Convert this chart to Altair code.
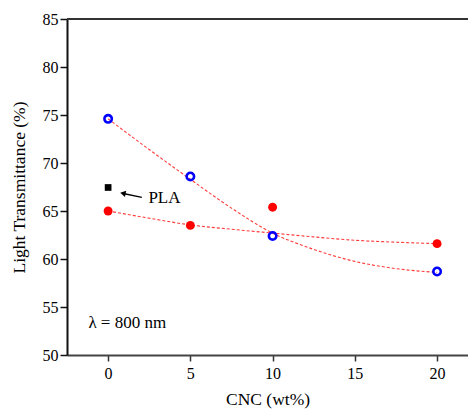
import altair as alt
import pandas as pd

# ---- data ----
cnc = [0, 5, 10, 20]
open_blue = [74.6, 68.6, 62.4, 58.7]
filled_red = [65.0, 63.5, 65.4, 61.6]
pla_x = [0]
pla_y = [67.45]

# dashed fit curves
curve_x = [0, 2.5, 5, 7.5, 10, 12.5, 15, 17.5, 20]
curve_blue = [74.6, 71.4, 68.3, 65.3, 62.7, 61.0, 59.75, 59.0, 58.6]
curve_red = [65.0, 64.25, 63.55, 63.1, 62.7, 62.3, 61.95, 61.75, 61.6]

x_ticks = [0, 5, 10, 15, 20]
y_ticks = [50, 55, 60, 65, 70, 75, 80, 85]

X_DOMAIN = [-2.5, 21.88]
Y_DOMAIN = [50, 85]
W, H = 401, 336
SERIF = "Liberation Serif"

blue_df = pd.DataFrame({"x": cnc, "y": open_blue})
red_df = pd.DataFrame({"x": cnc, "y": filled_red})
pla_df = pd.DataFrame({"x": pla_x, "y": pla_y})
cb_df = pd.DataFrame({"x": curve_x, "y": curve_blue})
cr_df = pd.DataFrame({"x": curve_x, "y": curve_red})

xs = alt.Scale(domain=X_DOMAIN, nice=False, zero=False)
ys = alt.Scale(domain=Y_DOMAIN, nice=False, zero=False)

x_axis = alt.Axis(values=x_ticks, title="CNC (wt%)", grid=False, tickSize=6,
                  labelPadding=4, titlePadding=9, domainWidth=2, domainColor="#444",
                  tickColor="#333", tickWidth=1.5)
y_axis = alt.Axis(values=y_ticks, title="Light Transmittance (%)", grid=False, tickSize=7,
                  labelPadding=2, titlePadding=14, domainWidth=2, domainColor="#111",
                  tickColor="#111", tickWidth=1.5)

base_x = alt.X("x:Q", scale=xs, axis=x_axis)
base_y = alt.Y("y:Q", scale=ys, axis=y_axis)

fit_blue = alt.Chart(cb_df).mark_line(
    color="#ff3b3b", strokeDash=[3, 2], strokeWidth=1.1, interpolate="monotone"
).encode(x=base_x, y=base_y)

fit_red = alt.Chart(cr_df).mark_line(
    color="#ff3b3b", strokeDash=[3, 2], strokeWidth=1.1, interpolate="monotone"
).encode(x=base_x, y=base_y)

pts_blue = alt.Chart(blue_df).mark_point(
    shape="circle", filled=False, color="#0000ff", strokeWidth=2.6, size=55, opacity=1
).encode(x=base_x, y=base_y)

pts_red = alt.Chart(red_df).mark_point(
    shape="circle", filled=True, color="#ff0000", size=80, opacity=1
).encode(x=base_x, y=base_y)

pts_pla = alt.Chart(pla_df).mark_point(
    shape="square", filled=True, color="#000000", size=45, opacity=1
).encode(x=base_x, y=base_y)

# annotations
arrow_df = pd.DataFrame({"x": [2.05], "y": [66.43], "x2": [0.85], "y2": [66.85]})
arrow_line = alt.Chart(arrow_df).mark_rule(color="black", strokeWidth=1.3).encode(
    x=alt.X("x:Q", scale=xs), y=alt.Y("y:Q", scale=ys), x2="x2:Q", y2="y2:Q")
head_df = pd.DataFrame({"x": [0.9], "y": [66.85]})
arrow_head = alt.Chart(head_df).mark_point(
    shape="triangle-left", filled=True, color="black", size=40, angle=12, opacity=1
).encode(x=alt.X("x:Q", scale=xs), y=alt.Y("y:Q", scale=ys))

labels_df = pd.DataFrame({"x": [2.45, -1.2], "y": [65.8, 52.78], "t": ["PLA", "λ = 800 nm"]})
labels = alt.Chart(labels_df).mark_text(
    font=SERIF, fontSize=17, align="left", baseline="alphabetic", color="black"
).encode(x=alt.X("x:Q", scale=xs), y=alt.Y("y:Q", scale=ys), text="t:N")

top_line = alt.Chart(pla_df).mark_rule(color="#333", strokeWidth=2).encode(
    x=alt.value(0), x2=alt.value(W), y=alt.value(0))

chart = alt.layer(
    fit_blue, fit_red, pts_blue, pts_red, pts_pla, arrow_line, arrow_head, labels, top_line
).properties(
    width=W, height=H,
    autosize=alt.AutoSizeParams(type="none"),
    padding={"left": 59, "top": 11, "right": 0, "bottom": 57},
).configure_view(stroke=None).configure_axis(
    labelFont=SERIF, titleFont=SERIF, labelFontSize=16, titleFontSize=17.5,
    labelColor="black", titleColor="black", titleFontWeight="normal"
)

chart.save("out.html", embed_options={"renderer": "svg", "actions": False})
